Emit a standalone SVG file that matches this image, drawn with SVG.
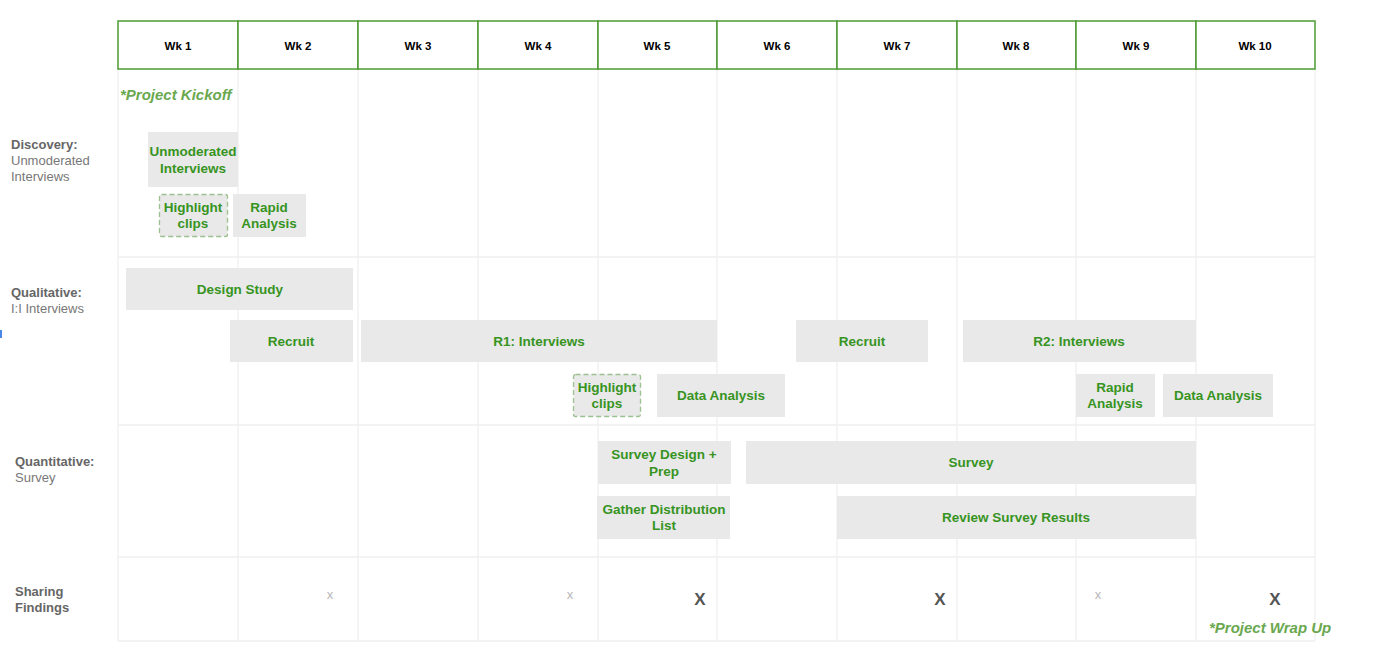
<svg xmlns="http://www.w3.org/2000/svg" width="1377" height="668" viewBox="0 0 1377 668">
<style>
.grid{stroke:#f0f0f0;stroke-width:1.3;fill:none}
.hdr{fill:#fff;stroke:#4d9a33;stroke-width:1.5}
.ht{font-family:"Liberation Sans",Arial,sans-serif;font-size:11.5px;font-weight:bold;fill:#000;text-anchor:middle}
.bar{fill:#e9e9e9}
.dash{fill:#e9e9e9;stroke:#9cc08f;stroke-width:1.3;stroke-dasharray:5 3}
.bt{font-family:"Liberation Sans",Arial,sans-serif;font-size:13.5px;font-weight:bold;fill:#37941f;text-anchor:middle}
.lb{font-family:"Liberation Sans",Arial,sans-serif;font-size:13px;font-weight:bold;fill:#666}
.ln{font-family:"Liberation Sans",Arial,sans-serif;font-size:13px;fill:#777}
.note{font-family:"Liberation Sans",Arial,sans-serif;font-size:15px;font-weight:bold;font-style:italic;fill:#6aa84f}
.xs{font-family:"Liberation Sans",Arial,sans-serif;font-size:13px;fill:#b7b7b7;text-anchor:middle}
.xb{font-family:"Liberation Sans",Arial,sans-serif;font-size:17px;font-weight:bold;fill:#555;text-anchor:middle}
</style>
<rect width="1377" height="668" fill="#fff"/>
<g id="grid">
<path class="grid" d="M118 69V641M238 69V641M358 69V641M478 69V641M598 69V641M717 69V641M837 69V641M957 69V641M1076 69V641M1196 69V641M1315 69V641M118 257H1315M118 425H1315M118 557H1315M118 641H1315"/>
</g>
<g id="header">
<rect class="hdr" x="118" y="21" width="120" height="48"/><text class="ht" x="178" y="50">Wk 1</text>
<rect class="hdr" x="238" y="21" width="120" height="48"/><text class="ht" x="298" y="50">Wk 2</text>
<rect class="hdr" x="358" y="21" width="120" height="48"/><text class="ht" x="418" y="50">Wk 3</text>
<rect class="hdr" x="478" y="21" width="120" height="48"/><text class="ht" x="538" y="50">Wk 4</text>
<rect class="hdr" x="598" y="21" width="119" height="48"/><text class="ht" x="657" y="50">Wk 5</text>
<rect class="hdr" x="717" y="21" width="120" height="48"/><text class="ht" x="777" y="50">Wk 6</text>
<rect class="hdr" x="837" y="21" width="120" height="48"/><text class="ht" x="897" y="50">Wk 7</text>
<rect class="hdr" x="957" y="21" width="119" height="48"/><text class="ht" x="1016" y="50">Wk 8</text>
<rect class="hdr" x="1076" y="21" width="120" height="48"/><text class="ht" x="1136" y="50">Wk 9</text>
<rect class="hdr" x="1196" y="21" width="119" height="48"/><text class="ht" x="1255" y="50">Wk 10</text>
</g>
<g id="row-labels">
<text class="lb" x="11" y="149">Discovery:</text>
<text class="ln" x="11" y="165">Unmoderated</text>
<text class="ln" x="11" y="181">Interviews</text>
<text class="lb" x="11" y="297">Qualitative:</text>
<text class="ln" x="11" y="313">I:I Interviews</text>
<text class="lb" x="15" y="466">Quantitative:</text>
<text class="ln" x="15" y="482">Survey</text>
<text class="lb" x="15" y="596">Sharing</text>
<text class="lb" x="15" y="612">Findings</text>
<rect x="0" y="330" width="2" height="8" fill="#4a86e8"/>
</g>
<g id="notes">
<text class="note" x="120" y="100">*Project Kickoff</text>
<text class="note" x="1209" y="633">*Project Wrap Up</text>
</g>
<g id="n-unmod"><rect class="bar" x="148" y="132" width="90" height="55"/><text class="bt" x="193" y="156">Unmoderated</text><text class="bt" x="193" y="173">Interviews</text></g>
<g id="n-clips1"><rect class="dash" x="159.5" y="194.5" width="68" height="42" rx="2"/><text class="bt" x="193" y="212">Highlight</text><text class="bt" x="193" y="228">clips</text></g>
<g id="n-rapid1"><rect class="bar" x="233" y="194" width="73" height="43"/><text class="bt" x="269" y="212">Rapid</text><text class="bt" x="269" y="228">Analysis</text></g>
<g id="n-design"><rect class="bar" x="126" y="268" width="227" height="42"/><text class="bt" x="240" y="294">Design Study</text></g>
<g id="n-recruit1"><rect class="bar" x="230" y="320" width="123" height="42"/><text class="bt" x="291" y="346">Recruit</text></g>
<g id="n-r1"><rect class="bar" x="361" y="320" width="356" height="42"/><text class="bt" x="539" y="346">R1: Interviews</text></g>
<g id="n-recruit2"><rect class="bar" x="796" y="320" width="132" height="42"/><text class="bt" x="862" y="346">Recruit</text></g>
<g id="n-r2"><rect class="bar" x="963" y="320" width="233" height="42"/><text class="bt" x="1079" y="346">R2: Interviews</text></g>
<g id="n-clips2"><rect class="dash" x="573.5" y="374.5" width="67" height="42" rx="2"/><text class="bt" x="607" y="392">Highlight</text><text class="bt" x="607" y="408">clips</text></g>
<g id="n-data1"><rect class="bar" x="657" y="374" width="128" height="43"/><text class="bt" x="721" y="400">Data Analysis</text></g>
<g id="n-rapid2"><rect class="bar" x="1076" y="374" width="79" height="43"/><text class="bt" x="1115" y="392">Rapid</text><text class="bt" x="1115" y="408">Analysis</text></g>
<g id="n-data2"><rect class="bar" x="1163" y="374" width="110" height="43"/><text class="bt" x="1218" y="400">Data Analysis</text></g>
<g id="n-surveydesign"><rect class="bar" x="598" y="441" width="133" height="43"/><text class="bt" x="664" y="459">Survey Design +</text><text class="bt" x="664" y="476">Prep</text></g>
<g id="n-survey"><rect class="bar" x="746" y="441" width="450" height="43"/><text class="bt" x="971" y="467">Survey</text></g>
<g id="n-gather"><rect class="bar" x="597" y="496" width="133" height="43"/><text class="bt" x="664" y="514">Gather Distribution</text><text class="bt" x="664" y="530">List</text></g>
<g id="n-review"><rect class="bar" x="837" y="496" width="359" height="43"/><text class="bt" x="1016" y="522">Review Survey Results</text></g>
<g id="sharing">
<text class="xs" x="330" y="599">x</text>
<text class="xs" x="570" y="599">x</text>
<text class="xs" x="1098" y="599">x</text>
<text class="xb" x="700" y="605">X</text>
<text class="xb" x="940" y="605">X</text>
<text class="xb" x="1275" y="605">X</text>
</g>
<g id="connectors"></g>
</svg>
